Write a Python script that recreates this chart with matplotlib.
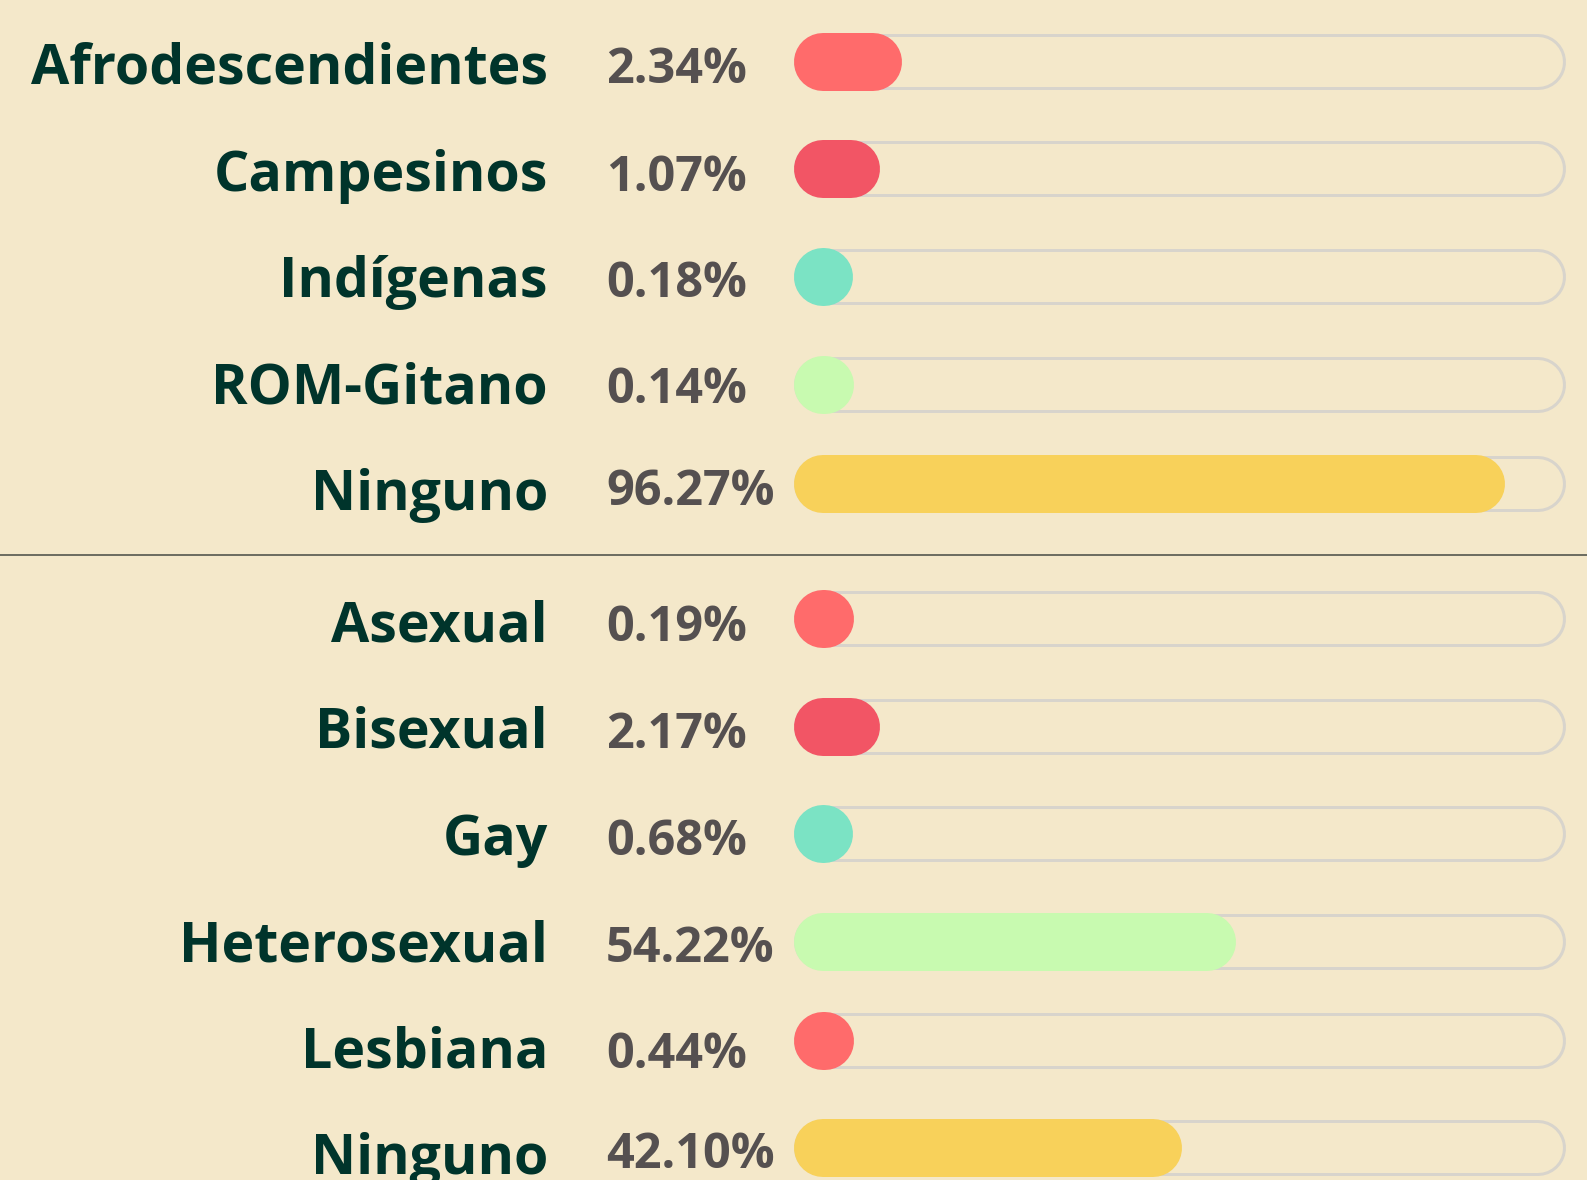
import matplotlib
matplotlib.use("Agg")
import matplotlib.pyplot as plt

# ---------------- data ----------------
group1_labels = ["Afrodescendientes", "Campesinos", "Indígenas", "ROM-Gitano", "Ninguno"]
group1_values = [2.34, 1.07, 0.18, 0.14, 96.27]
group1_fill = [14.0, 11.1, 7.4, 7.8, 92.1]      # filled share of the track (%)

group2_labels = ["Asexual", "Bisexual", "Gay", "Heterosexual", "Lesbiana", "Ninguno"]
group2_values = [0.19, 2.17, 0.68, 54.22, 0.44, 42.10]
group2_fill = [7.8, 11.1, 7.4, 57.3, 7.8, 50.3]

# ---------------- style / layout ----------------
W, H = 1587, 1180
BG = "#f4e8ca"
LABEL_C = "#00342b"
PCT_C = "#555050"
TRACK_C = "#d8d4cc"
SEP_C = "#6e6e62"
colors1 = ["#ff6b6b", "#f25565", "#7be3c4", "#c8fab0", "#f8d15a"]
colors2 = ["#ff6b6b", "#f25565", "#7be3c4", "#c8fab0", "#ff6b6b", "#f8d15a"]

bar_y1 = [62, 169, 277, 385, 484]
bar_y2 = [619, 727, 834, 942, 1041, 1148]
text_y1 = [83, 191, 297, 403, 510]
text_y2 = [641, 748, 855, 962, 1068, 1174]
pct_dy1 = [0, 0, 0, 0, -5]
pct_dy2 = [0, 0, 0, 0, 0, -6]
SEP_Y = 555

TRACK_X0, TRACK_X1 = 794, 1566
BAR_H = 58
TRACK_H = 56
TRACK_LW = 3

plt.rcParams["font.family"] = ["Open Sans", "DejaVu Sans"]

fig = plt.figure(figsize=(W / 100, H / 100), dpi=100, facecolor=BG)

# text / separator layer in pixel coordinates
axt = fig.add_axes([0, 0, 1, 1])
axt.set_xlim(0, W)
axt.set_ylim(H, 0)
axt.axis("off")
axt.set_facecolor(BG)

# bar layer: x in percent of track, y in pixels
axb = fig.add_axes([TRACK_X0 / W, 0, (TRACK_X1 - TRACK_X0) / W, 1])
axb.set_xlim(0, 100)
axb.set_ylim(H, 0)
axb.axis("off")
axb.patch.set_alpha(0)

px_per_unit = (TRACK_X1 - TRACK_X0) / 100.0
pt = 72.0 / 100.0  # points per pixel


def draw_row(label, value, fill, color, by, ty, pdy):
    # track (outline)
    rt = (TRACK_H / 2) / px_per_unit
    axb.plot([rt, 100 - rt], [by, by], lw=TRACK_H * pt, color=TRACK_C,
             solid_capstyle="round", zorder=1)
    axb.plot([rt, 100 - rt], [by, by], lw=(TRACK_H - 2 * TRACK_LW) * pt, color=BG,
             solid_capstyle="round", zorder=2)
    # filled bar
    rf = (BAR_H / 2) / px_per_unit
    x_end = max(fill - rf, rf + 0.15)
    axb.plot([rf, x_end], [by, by], lw=BAR_H * pt, color=color,
             solid_capstyle="round", zorder=3)
    # texts
    axt.text(548, ty, label, ha="right", va="baseline", fontsize=40,
             fontweight="bold", color=LABEL_C)
    axt.text(606, ty + pdy, f"{value:.2f}%", ha="left", va="baseline", fontsize=35,
             fontweight="bold", color=PCT_C)


for lab, val, fl, c, by, ty, d in zip(group1_labels, group1_values, group1_fill,
                                      colors1, bar_y1, text_y1, pct_dy1):
    draw_row(lab, val, fl, c, by, ty, d)

for lab, val, fl, c, by, ty, d in zip(group2_labels, group2_values, group2_fill,
                                      colors2, bar_y2, text_y2, pct_dy2):
    draw_row(lab, val, fl, c, by, ty, d)

axt.plot([0, W], [SEP_Y, SEP_Y], color=SEP_C, lw=2 * pt, zorder=1)

fig.savefig("out.png", dpi=100, facecolor=BG)
